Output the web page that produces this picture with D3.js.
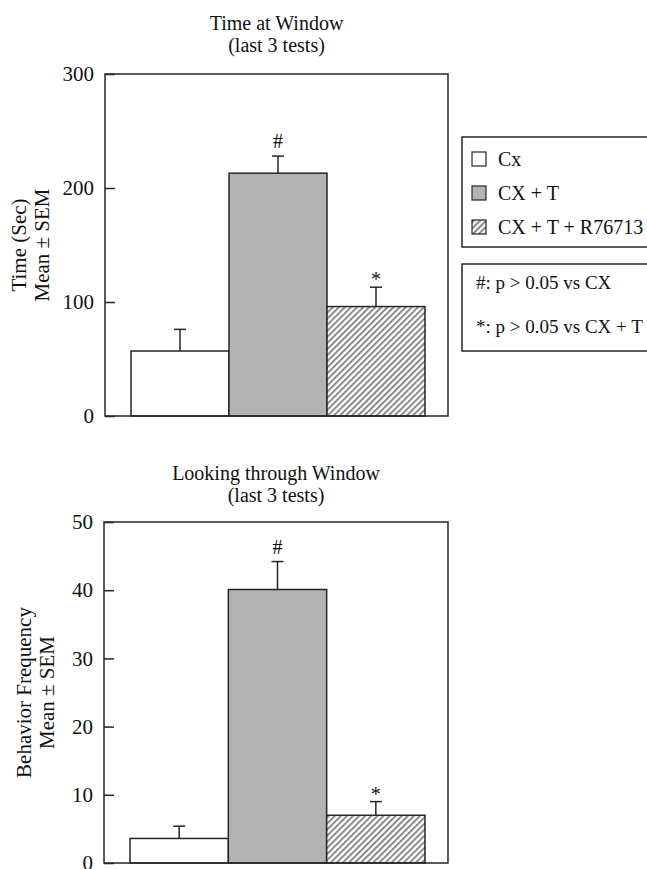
<!DOCTYPE html>
<html>
<head>
<meta charset="utf-8">
<script src="https://cdn.jsdelivr.net/npm/d3@7"></script>
<style>
  html, body { margin: 0; padding: 0; background: #fff; }
  svg { display: block; }
  text { font-family: "Liberation Serif", "Times New Roman", serif; fill: #111; }
</style>
</head>
<body>
<svg id="chart" width="647" height="869"></svg>
<script>
// ---- data ----
const groups = ["Cx", "CX + T", "CX + T + R76713"];
const legendLabels = ["Cx", "CX + T", "CX + T + R76713"];
const timeMeans = [57, 213, 96];
const timeSEM = [19, 15, 17];
const timeTicks = [0, 100, 200, 300];
const lookMeans = [3.6, 40.1, 7.0];
const lookSEM = [1.8, 4.1, 2.0];
const lookTicks = [0, 10, 20, 30, 40, 50];
const sigMarks = ["", "#", "*"];
const notes = ["#: p > 0.05 vs CX", "*: p > 0.05 vs CX + T"];
const timeTitle = ["Time at Window", "(last 3 tests)"];
const lookTitle = ["Looking through Window", "(last 3 tests)"];
const timeYLabel = ["Time (Sec)", "Mean \u00B1 SEM"];
const lookYLabel = ["Behavior Frequency", "Mean \u00B1 SEM"];

const svg = d3.select("#chart");
const defs = svg.append("defs");
const pat = defs.append("pattern")
  .attr("id", "hatch").attr("patternUnits", "userSpaceOnUse")
  .attr("width", 4.3).attr("height", 4.3)
  .attr("patternTransform", "rotate(45)");
pat.append("rect").attr("width", 4.3).attr("height", 4.3).attr("fill", "#fff");
pat.append("line").attr("x1", 1).attr("y1", 0).attr("x2", 1).attr("y2", 4.3)
  .attr("stroke", "#858585").attr("stroke-width", 1.9);

const fills = ["#ffffff", "#b3b3b3", "url(#hatch)"];
const ink = "#262626";

function panel(cfg) {
  const { means, sems, ticks, domainMax, box, barRange, title, titleY, ylabel, ylabelX } = cfg;
  const g = svg.append("g");
  const y = d3.scaleLinear().domain([0, domainMax]).range([box.bottom, box.top]);
  const x = d3.scaleBand().domain(groups).range(barRange).padding(0);

  // title
  g.selectAll("text.title").data(title).join("text")
    .attr("class", "title")
    .attr("x", (box.left + box.right) / 2)
    .attr("y", (d, i) => titleY[i])
    .attr("text-anchor", "middle")
    .attr("font-size", 20)
    .text(d => d);

  // y label
  const yl = g.append("g")
    .attr("transform", `translate(${ylabelX[0]},${(box.top + box.bottom) / 2}) rotate(-90)`);
  yl.selectAll("text").data(ylabel).join("text")
    .attr("x", 0).attr("y", (d, i) => i * (ylabelX[1] - ylabelX[0]))
    .attr("text-anchor", "middle")
    .attr("font-size", 21)
    .text(d => d);

  // bars
  g.selectAll("rect.bar").data(groups).join("rect")
    .attr("class", "bar")
    .attr("x", d => x(d))
    .attr("y", (d, i) => y(means[i]))
    .attr("width", x.bandwidth())
    .attr("height", (d, i) => y(0) - y(means[i]))
    .attr("fill", (d, i) => fills[i])
    .attr("stroke", ink).attr("stroke-width", 1.5);

  // error bars
  const eb = g.selectAll("g.err").data(groups).join("g").attr("class", "err");
  eb.append("line")
    .attr("x1", d => x(d) + x.bandwidth() / 2).attr("x2", d => x(d) + x.bandwidth() / 2)
    .attr("y1", (d, i) => y(means[i])).attr("y2", (d, i) => y(means[i] + sems[i]))
    .attr("stroke", ink).attr("stroke-width", 1.5);
  eb.append("line")
    .attr("x1", d => x(d) + x.bandwidth() / 2 - 6).attr("x2", d => x(d) + x.bandwidth() / 2 + 6)
    .attr("y1", (d, i) => y(means[i] + sems[i])).attr("y2", (d, i) => y(means[i] + sems[i]))
    .attr("stroke", ink).attr("stroke-width", 1.5);

  // significance marks
  const markGap = { "#": 8, "*": 1 };
  g.selectAll("text.sig").data(groups).join("text")
    .attr("class", "sig")
    .attr("x", d => x(d) + x.bandwidth() / 2)
    .attr("y", (d, i) => y(means[i] + sems[i]) - (markGap[sigMarks[i]] || 0))
    .attr("text-anchor", "middle")
    .attr("font-size", 20)
    .text((d, i) => sigMarks[i]);

  // frame
  g.append("rect")
    .attr("x", box.left).attr("y", box.top)
    .attr("width", box.right - box.left).attr("height", box.bottom - box.top)
    .attr("fill", "none").attr("stroke", ink).attr("stroke-width", 1.5);

  // axis
  const ax = g.append("g").attr("transform", `translate(${box.left},0)`)
    .call(d3.axisLeft(y).tickValues(ticks).tickSizeInner(-10).tickSizeOuter(0).tickPadding(11)
      .tickFormat(d3.format("d")));
  ax.select(".domain").remove();
  ax.selectAll(".tick line").attr("stroke", ink).attr("stroke-width", 1.5);
  ax.selectAll(".tick text")
    .attr("font-family", "'Liberation Serif', 'Times New Roman', serif")
    .attr("font-size", 21).attr("fill", "#111");
}

panel({
  means: timeMeans, sems: timeSEM, ticks: timeTicks, domainMax: 300,
  box: { left: 105, right: 448, top: 74, bottom: 416 },
  barRange: [131, 425],
  title: timeTitle, titleY: [30, 52],
  ylabel: timeYLabel, ylabelX: [26, 49]
});

panel({
  means: lookMeans, sems: lookSEM, ticks: lookTicks, domainMax: 50,
  box: { left: 104, right: 448, top: 522, bottom: 863 },
  barRange: [130, 425],
  title: lookTitle, titleY: [480, 502],
  ylabel: lookYLabel, ylabelX: [31, 54]
});

// legend
const leg = svg.append("g");
leg.append("rect").attr("x", 462).attr("y", 137).attr("width", 260).attr("height", 110)
  .attr("fill", "#fff").attr("stroke", ink).attr("stroke-width", 1.5);
const rowY = [159, 193, 227];
leg.selectAll("rect.sw").data(legendLabels).join("rect")
  .attr("class", "sw")
  .attr("x", 472).attr("y", (d, i) => rowY[i] - 7)
  .attr("width", 14).attr("height", 14)
  .attr("fill", (d, i) => fills[i])
  .attr("stroke", ink).attr("stroke-width", 1.2);
leg.selectAll("text.lt").data(legendLabels).join("text")
  .attr("class", "lt")
  .attr("x", 498).attr("y", (d, i) => rowY[i] + 7)
  .attr("font-size", 20)
  .text(d => d);

const nb = svg.append("g");
nb.append("rect").attr("x", 462).attr("y", 264).attr("width", 260).attr("height", 87)
  .attr("fill", "#fff").attr("stroke", ink).attr("stroke-width", 1.5);
const noteY = [289, 333];
nb.selectAll("text").data(notes).join("text")
  .attr("x", 476).attr("y", (d, i) => noteY[i])
  .attr("font-size", 19)
  .text(d => d);
</script>
</body>
</html>
